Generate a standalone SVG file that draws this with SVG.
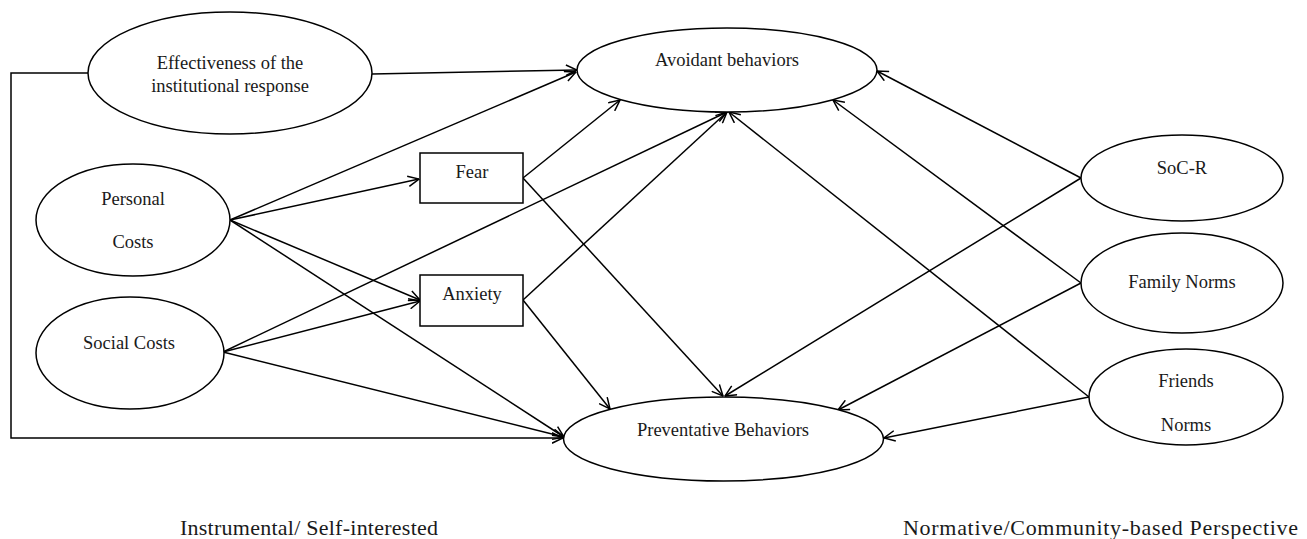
<svg xmlns="http://www.w3.org/2000/svg" width="1307" height="539" viewBox="0 0 1307 539">
<style>
.node{fill:#fff;stroke:#000;stroke-width:1.5}
.t{font-family:"Liberation Serif","Times New Roman",serif;font-size:18.5px;fill:#1a1a1a;text-anchor:middle}
.lbl{font-family:"Liberation Serif","Times New Roman",serif;font-size:22px;fill:#1a1a1a}
.c{fill:none;stroke:#000;stroke-width:1.5}
</style>
<defs>
<marker id="ah" viewBox="0 0 12 12" refX="11.5" refY="6" markerWidth="12" markerHeight="12" markerUnits="userSpaceOnUse" orient="auto">
<path d="M0.5,0.8 L11.5,6 L0.5,11.2" fill="none" stroke="#000" stroke-width="1.5"/>
</marker>
</defs>
<rect width="1307" height="539" fill="#fff"/>
<g id="connectors">
<polyline class="c" points="88,73 11,73 11,438 563,438" marker-end="url(#ah)"/>
<line class="c" x1="372" y1="74" x2="577" y2="70" marker-end="url(#ah)"/>
<line class="c" x1="230" y1="220" x2="576" y2="72" marker-end="url(#ah)"/>
<line class="c" x1="230" y1="220" x2="419" y2="179" marker-end="url(#ah)"/>
<line class="c" x1="230" y1="220" x2="420" y2="300" marker-end="url(#ah)"/>
<line class="c" x1="230" y1="220" x2="564" y2="437" marker-end="url(#ah)"/>
<line class="c" x1="223" y1="352" x2="727" y2="112" marker-end="url(#ah)"/>
<line class="c" x1="223" y1="352" x2="420" y2="301" marker-end="url(#ah)"/>
<line class="c" x1="223" y1="352" x2="564" y2="437" marker-end="url(#ah)"/>
<line class="c" x1="523" y1="178" x2="620" y2="100" marker-end="url(#ah)"/>
<line class="c" x1="523" y1="178" x2="723" y2="396" marker-end="url(#ah)"/>
<line class="c" x1="523" y1="300" x2="727" y2="112" marker-end="url(#ah)"/>
<line class="c" x1="523" y1="300" x2="610" y2="409" marker-end="url(#ah)"/>
<line class="c" x1="1081" y1="178" x2="877" y2="71" marker-end="url(#ah)"/>
<line class="c" x1="1081" y1="178" x2="725" y2="396" marker-end="url(#ah)"/>
<line class="c" x1="1081" y1="283" x2="833" y2="100" marker-end="url(#ah)"/>
<line class="c" x1="1081" y1="283" x2="838" y2="410" marker-end="url(#ah)"/>
<line class="c" x1="1089" y1="397" x2="729" y2="112" marker-end="url(#ah)"/>
<line class="c" x1="1089" y1="397" x2="884" y2="438" marker-end="url(#ah)"/>
</g>
<g id="effectiveness">
<ellipse class="node" cx="230" cy="73" rx="142" ry="61"/>
<text class="t" x="230" y="69">Effectiveness of the</text>
<text class="t" x="230" y="92">institutional response</text>
</g>
<g id="avoidant">
<ellipse class="node" cx="727" cy="70" rx="150" ry="42"/>
<text class="t" x="727" y="66">Avoidant behaviors</text>
</g>
<g id="fear">
<rect class="node" x="420" y="153" width="103" height="50"/>
<text class="t" x="472" y="178">Fear</text>
</g>
<g id="anxiety">
<rect class="node" x="420" y="275" width="103" height="51"/>
<text class="t" x="472" y="300">Anxiety</text>
</g>
<g id="preventative">
<ellipse class="node" cx="723.5" cy="439" rx="160" ry="42"/>
<text class="t" x="723" y="436">Preventative Behaviors</text>
</g>
<g id="personal-costs">
<ellipse class="node" cx="133" cy="220" rx="97" ry="56"/>
<text class="t" x="133" y="205">Personal</text>
<text class="t" x="133" y="248">Costs</text>
</g>
<g id="social-costs">
<ellipse class="node" cx="130" cy="353" rx="94" ry="56"/>
<text class="t" x="129" y="349">Social Costs</text>
</g>
<g id="soc-r">
<ellipse class="node" cx="1182" cy="178" rx="101" ry="43"/>
<text class="t" x="1182" y="174">SoC-R</text>
</g>
<g id="family-norms">
<ellipse class="node" cx="1182" cy="283" rx="101" ry="50"/>
<text class="t" x="1182" y="288">Family Norms</text>
</g>
<g id="friends-norms">
<ellipse class="node" cx="1186" cy="397" rx="97" ry="48"/>
<text class="t" x="1186" y="387">Friends</text>
<text class="t" x="1186" y="431">Norms</text>
</g>
<g id="labels">
<text class="lbl" x="180" y="535" textLength="258" lengthAdjust="spacing">Instrumental/ Self-interested</text>
<text class="lbl" x="903" y="535" textLength="395" lengthAdjust="spacing">Normative/Community-based Perspective</text>
</g>
</svg>
